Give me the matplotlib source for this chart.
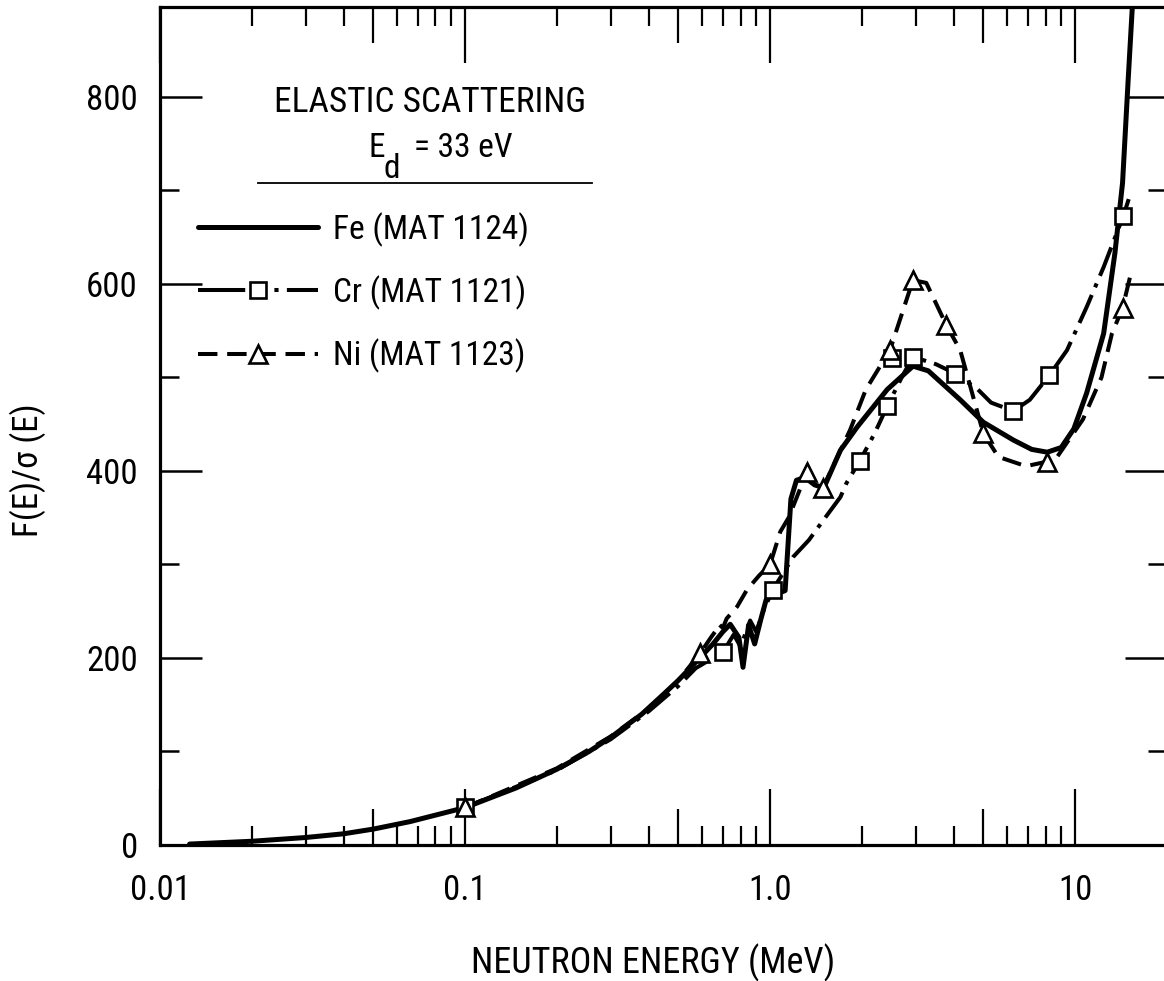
import matplotlib
matplotlib.use('Agg')
import matplotlib.pyplot as plt
from matplotlib import font_manager
from matplotlib.lines import Line2D
from matplotlib.ticker import FixedLocator, NullLocator, NullFormatter, FixedFormatter

# ---------- pick a condensed sans font if one is installed ----------
ttf = font_manager.fontManager.ttflist
names = {f.name for f in ttf}
FONT = None
STRETCH = 'normal'
for cand in ['Liberation Sans Narrow', 'Roboto Condensed', 'Open Sans Condensed',
             'DejaVu Sans Condensed', 'Noto Sans Condensed', 'Arial Narrow']:
    if cand in names:
        FONT = cand
        break
if FONT is None:
    for f in ttf:
        if ('Narrow' in f.name or 'Condensed' in f.name) and 'Mono' not in f.name and 'Serif' not in f.name:
            FONT = f.name
            break
if FONT is None:
    for f in ttf:
        if f.name == 'DejaVu Sans' and str(f.stretch) in ('condensed', 'semi-condensed', '375', '500'):
            FONT = 'DejaVu Sans'
            STRETCH = 'condensed'
            break
SC = 1.0
if FONT is None:
    FONT = 'DejaVu Sans'
    SC = 0.85
plt.rcParams['font.family'] = [FONT, 'DejaVu Sans']
plt.rcParams['font.stretch'] = STRETCH
plt.rcParams['lines.scale_dashes'] = False

# ---------------- data ----------------
fe_E = [0.0125, 0.02, 0.03, 0.04, 0.05, 0.066, 0.1, 0.147, 0.2, 0.255, 0.3, 0.38, 0.45, 0.5,
        0.58, 0.65, 0.7, 0.74, 0.79, 0.815, 0.85, 0.89, 0.93, 0.97, 1.02, 1.08, 1.12, 1.17,
        1.22, 1.3, 1.4, 1.5, 1.7, 1.93, 2.42, 2.94, 3.3, 4.2, 5.0, 6.27, 7.2, 8.1, 9.0, 9.9,
        10.9, 12.4, 13.5, 14.3, 14.9, 15.4, 15.6]
fe_V = [1, 4, 8, 12, 17, 25, 40, 61, 81, 100, 115, 140, 162, 176,
        198, 215, 228, 236, 222, 190, 235, 215, 240, 262, 268, 270, 272, 370,
        390, 393, 385, 382, 422, 447, 487, 512, 507, 476, 452, 433, 423, 420, 425, 445,
        483, 547, 633, 708, 815, 897, 930]

cr_E = [0.1, 0.2, 0.3, 0.4, 0.5, 0.57, 0.65, 0.70, 0.76, 0.80, 0.86, 0.9, 0.95, 1.02,
        1.1, 1.19, 1.34, 1.5, 1.7, 1.78, 1.97, 2.2, 2.42, 2.7, 2.94, 3.5, 4.05, 4.8, 5.3,
        6.27, 7.1, 8.22, 9.4, 10.9, 12.4, 14.4, 15.2]
cr_V = [40, 80, 113, 143, 170, 189, 200, 206, 225, 212, 240, 228, 250, 273,
        290, 308, 326, 348, 372, 387, 411, 440, 469, 500, 522, 514, 504, 487, 473,
        464, 476, 502, 529, 575, 618, 673, 697]
cr_mE = [0.1, 0.70, 1.02, 1.97, 2.42, 2.5, 2.94, 4.05, 6.27, 8.22, 14.4]
cr_mV = [41, 206, 273, 411, 469, 521, 522, 504, 464, 502, 673]

ni_E = [0.1, 0.2, 0.3, 0.4, 0.5, 0.59, 0.64, 0.66, 0.68, 0.70, 0.72, 0.78, 0.84, 0.92,
        1.0, 1.08, 1.15, 1.32, 1.49, 1.83, 2.06, 2.47, 2.94, 3.25, 3.78, 4.2, 5.0, 5.6,
        6.9, 8.1, 8.73, 10.6, 12.2, 13.2, 14.3, 15.2]
ni_V = [40, 82, 116, 146, 176, 205, 222, 228, 236, 232, 242, 255, 273, 288,
        300, 335, 350, 399, 382, 444, 487, 529, 604, 601, 556, 529, 440, 415,
        405, 410, 415, 455, 500, 547, 574, 610]
ni_mE = [0.1, 0.59, 1.0, 1.32, 1.49, 2.47, 2.94, 3.78, 5.0, 8.1, 14.3]
ni_mV = [41, 205, 300, 399, 382, 529, 604, 556, 440, 410, 574]

x_major = [0.01, 0.1, 1.0, 10.0]
x_major_labels = ['0.01', '0.1', '1.0', '10']
x_mid = [0.05, 0.5, 5.0]
x_minor = [k * 10.0 ** d for d in (-2, -1, 0, 1) for k in (2, 3, 4, 6, 7, 8, 9) if k * 10.0 ** d < 20]
y_major = [0, 200, 400, 600, 800]
y_minor = [100, 300, 500, 700]

labels = ['Fe (MAT 1124)', 'Cr (MAT 1121)', 'Ni (MAT 1123)']

# ---------------- figure ----------------
W, H = 1164, 981
fig = plt.figure(figsize=(W / 100, H / 100), dpi=100)
fig.patch.set_facecolor('white')

def fx(px):
    return px / W

def fy(py):
    return 1 - py / H

ax = fig.add_axes([fx(160), fy(845), 1007 / W, 838 / H])
ax.set_xscale('log')
ax.set_xlim(0.01, 20)
ax.set_ylim(0, 896)

# secondary x axis only for the longer "5" ticks (created first: twiny resets top ticks)
axm = ax.twiny()
axm.set_xscale('log')
axm.set_xlim(ax.get_xlim())
axm.xaxis.set_major_locator(FixedLocator(x_mid))
axm.xaxis.set_minor_locator(NullLocator())
axm.tick_params(axis='x', which='major', direction='in', length=26, width=1.6, top=True, bottom=True,
                labeltop=False, labelbottom=False)
for s in axm.spines.values():
    s.set_visible(False)

for s in ax.spines.values():
    s.set_linewidth(2.3)

CR_LS = (0, (22, 6, 3, 6))
CR_LEG_LS = (0, (34, 21, 3, 6, 26, 10))
NI_LS = (0, (14, 7))

ax.plot(fe_E, fe_V, color='black', lw=3.6, solid_joinstyle='round', solid_capstyle='round', zorder=4)
ax.plot(cr_E, cr_V, color='black', lw=2.9, ls=CR_LS, zorder=3)
ax.plot(ni_E, ni_V, color='black', lw=2.9, ls=NI_LS, zorder=3)
ax.plot(cr_mE, cr_mV, ls='none', marker='s', ms=11, mfc='white', mec='black', mew=1.9, zorder=5)
ax.plot(ni_mE, ni_mV, ls='none', marker='^', ms=13, mfc='white', mec='black', mew=1.9, zorder=6)

# ticks
TFS = 25 * SC
ax.xaxis.set_major_locator(FixedLocator(x_major))
ax.xaxis.set_major_formatter(FixedFormatter(x_major_labels))
ax.xaxis.set_minor_locator(FixedLocator(x_minor))
ax.xaxis.set_minor_formatter(NullFormatter())
ax.yaxis.set_major_locator(FixedLocator(y_major))
ax.yaxis.set_minor_locator(FixedLocator(y_minor))
ax.tick_params(axis='x', which='major', direction='in', length=40, width=1.6, top=True, bottom=True,
               labelsize=TFS, pad=21, labeltop=False, labelbottom=True)
ax.tick_params(axis='x', which='minor', direction='in', length=14, width=1.6, top=True, bottom=True)
ax.tick_params(axis='y', which='major', direction='in', length=30, width=1.8, left=True, right=True,
               labelsize=TFS, pad=16)
ax.tick_params(axis='y', which='minor', direction='in', length=14, width=1.8, left=True, right=True)

# axis labels
ax.set_xlabel('NEUTRON ENERGY (MeV)', fontsize=26 * SC, va='center')
ax.xaxis.set_label_coords((653 - 160) / 1007, (845 - 963) / 838)
ax.set_ylabel('F(E)/σ (E)', fontsize=25 * SC, va='center')
ax.yaxis.set_label_coords((28 - 160) / 1007, (845 - 470) / 838)

# legend block
LFS = 24 * SC
fig.text(fx(430), fy(102), 'ELASTIC SCATTERING', ha='center', va='center', fontsize=25.5 * SC)
fig.text(fx(377), fy(148), 'E', ha='center', va='center', fontsize=LFS)
fig.text(fx(392), fy(169), 'd', ha='center', va='center', fontsize=LFS)
fig.text(fx(414), fy(148), '= 33 eV', ha='left', va='center', fontsize=LFS)
fig.add_artist(Line2D([fx(258), fx(592)], [fy(183), fy(183)], transform=fig.transFigure,
                      color='black', lw=1.3))

handles = [
    Line2D([], [], color='black', lw=3.6, solid_capstyle='round'),
    Line2D([], [], color='black', lw=2.9, ls=CR_LEG_LS, marker='s', ms=11, mfc='white', mec='black', mew=1.9),
    Line2D([], [], color='black', lw=2.9, ls=NI_LS, marker='^', ms=13, mfc='white', mec='black', mew=1.9),
]
fig.legend(handles, labels, loc='upper left', bbox_to_anchor=(fx(198), fy(212)),
           bbox_transform=fig.transFigure, frameon=False, fontsize=LFS, numpoints=1,
           handlelength=3.6 / SC, handletextpad=0.45, labelspacing=0.86 / SC, borderpad=0, borderaxespad=0)

fig.savefig('out.png', dpi=100, facecolor='white')
